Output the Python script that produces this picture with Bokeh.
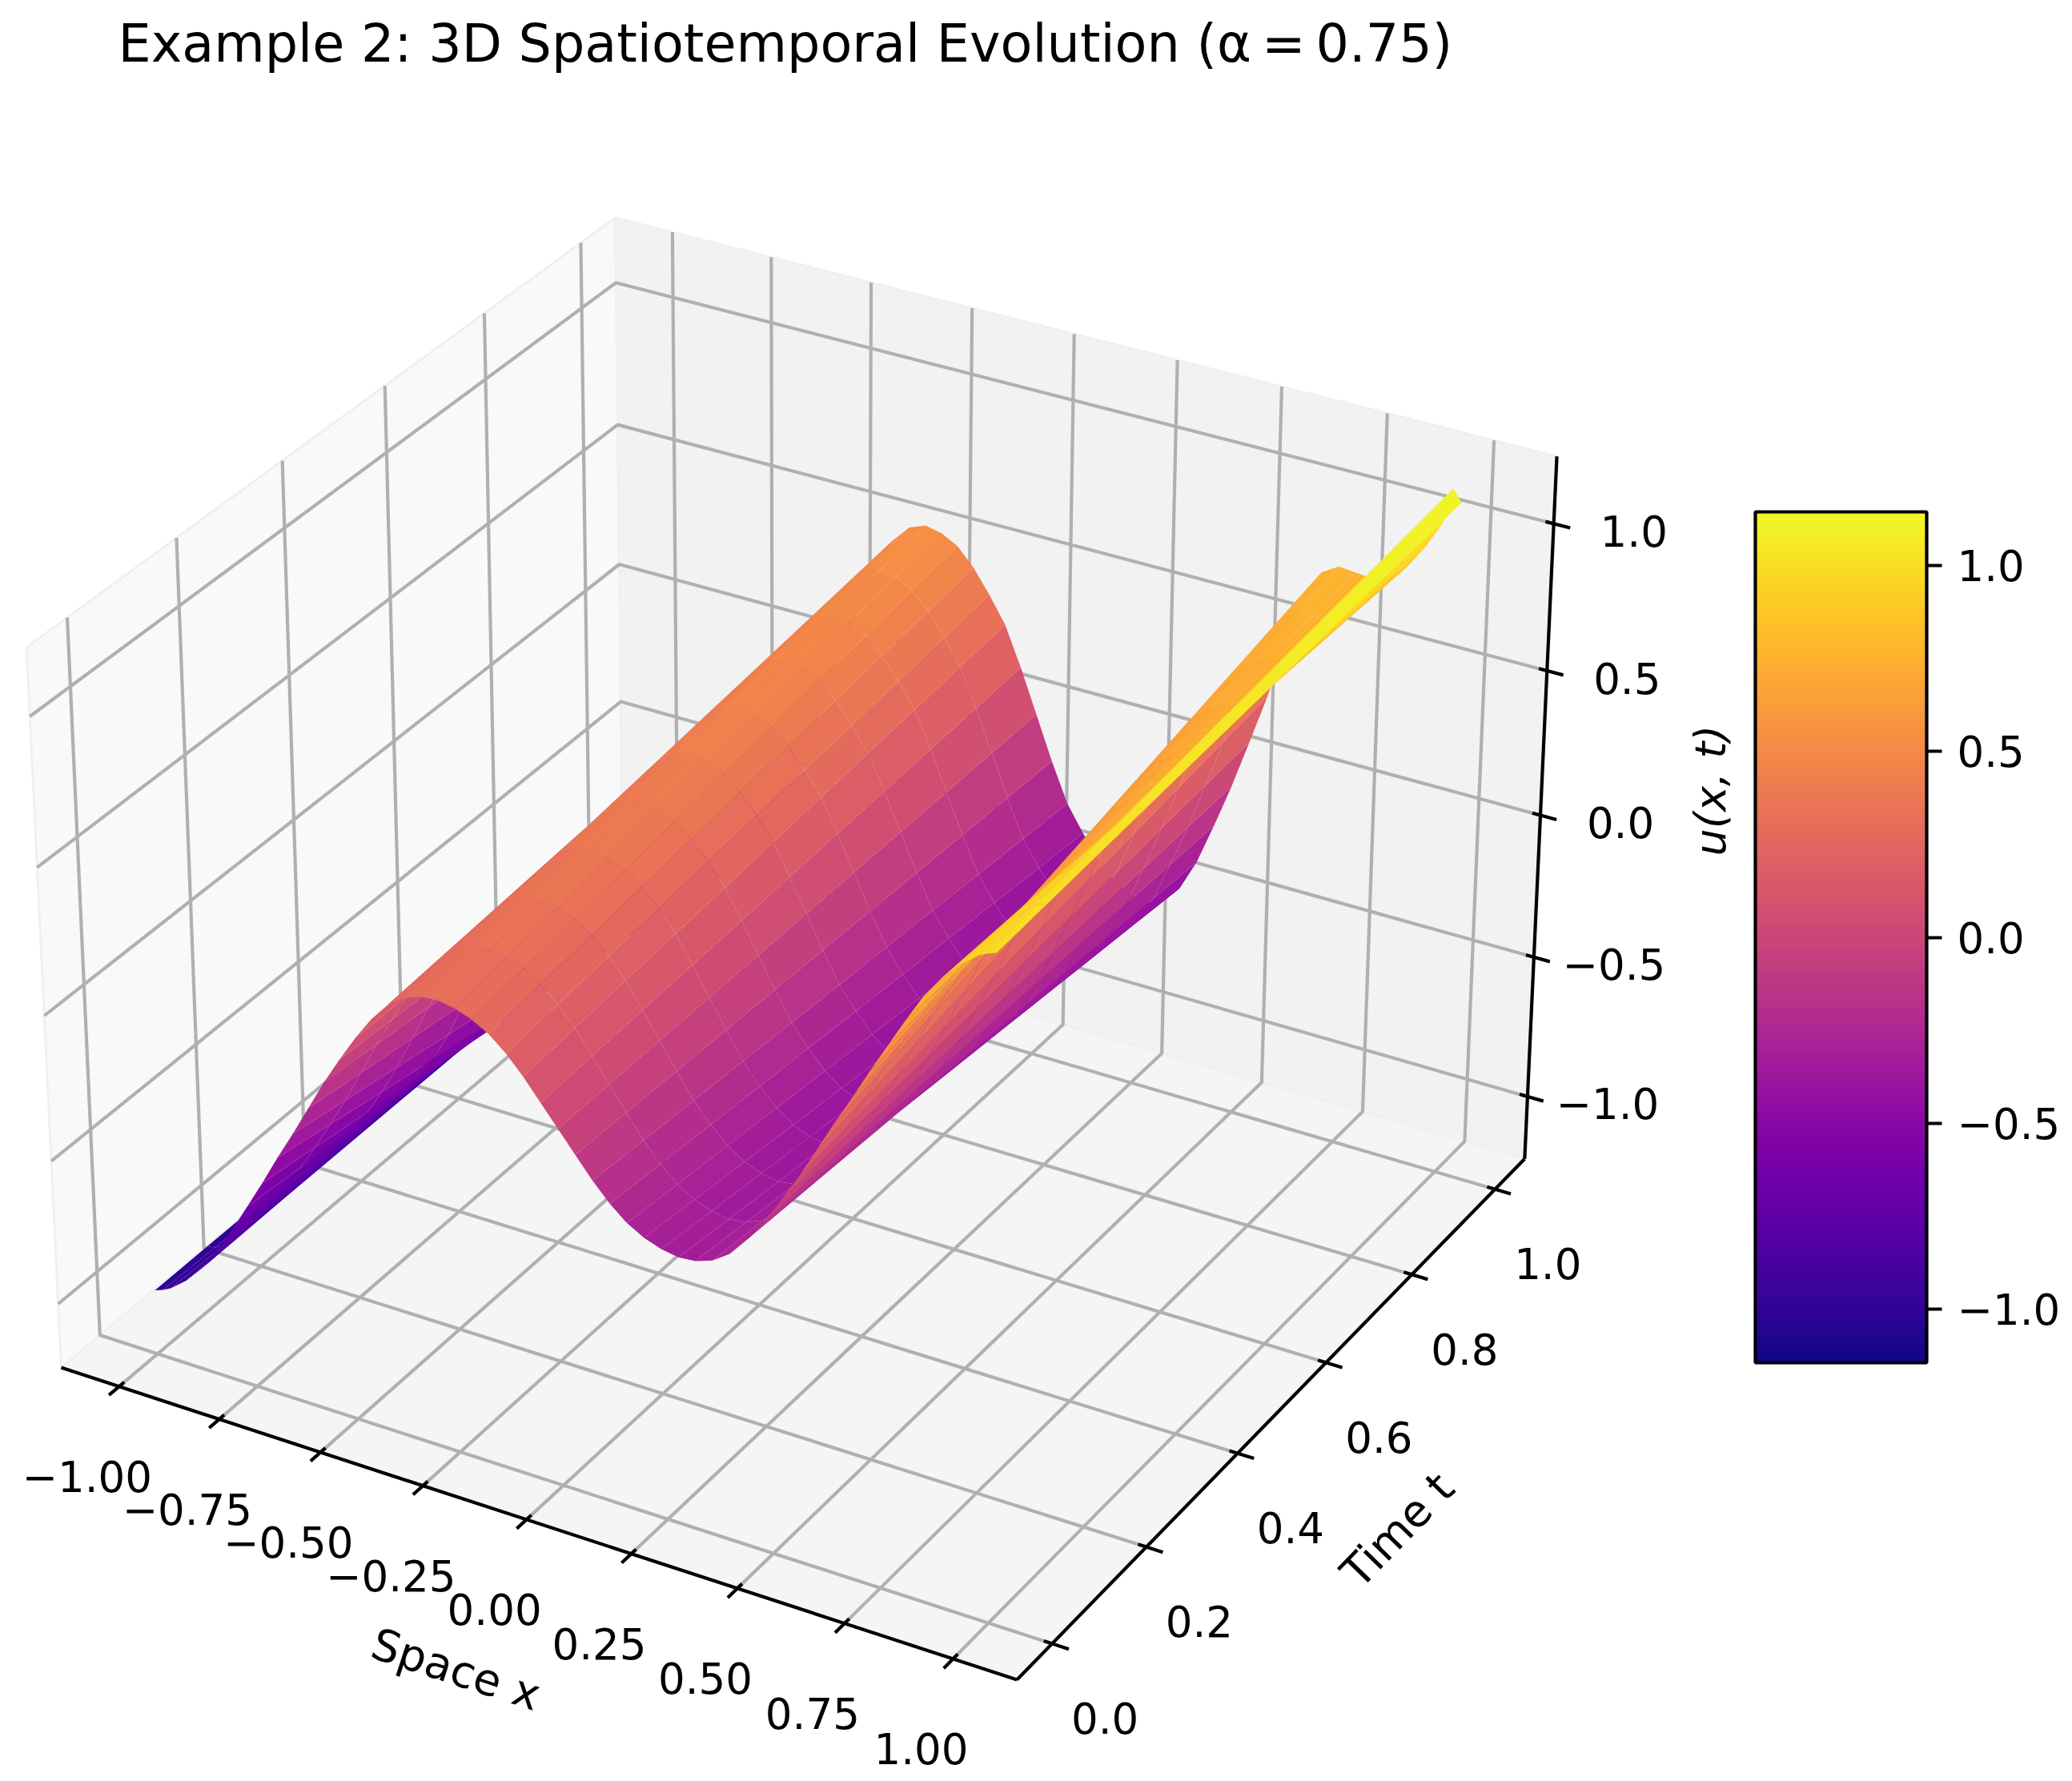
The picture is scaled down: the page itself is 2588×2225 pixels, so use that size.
import numpy as np
from bokeh.plotting import figure
from bokeh.embed import file_html
from bokeh.resources import INLINE
from bokeh.models import ColorBar, LinearColorMapper, FixedTicker
from bokeh.palettes import Plasma256
from bokeh.core.properties import value

title_text = "Example 2: 3D Spatiotemporal Evolution (α\u2009=\u20090.75)"
x_ticks = [-1.0, -0.75, -0.5, -0.25, 0.0, 0.25, 0.5, 0.75, 1.0]
x_labels = ["−1.00", "−0.75", "−0.50", "−0.25", "0.00", "0.25", "0.50", "0.75", "1.00"]
t_ticks = [0.0, 0.2, 0.4, 0.6, 0.8, 1.0]
t_labels = ["0.0", "0.2", "0.4", "0.6", "0.8", "1.0"]
z_ticks = [-1.0, -0.5, 0.0, 0.5, 1.0]
z_labels = ["−1.0", "−0.5", "0.0", "0.5", "1.0"]
cbar_low, cbar_high = -1.145, 1.145

x_nodes = [-1.0, -0.98, -0.96, -0.92, -0.88, -0.84, -0.8, -0.76, -0.72, -0.68, -0.64, -0.6, -0.56, -0.52, -0.48, -0.44, -0.4, -0.36,
           -0.32, -0.28, -0.24, -0.2, -0.16, -0.12, -0.08, -0.04, 0.0, 0.04, 0.08, 0.12, 0.16, 0.2, 0.24, 0.28, 0.32, 0.36,
           0.4, 0.44, 0.48, 0.52, 0.56, 0.6, 0.64, 0.68, 0.72, 0.76, 0.8, 0.84, 0.88, 0.92, 0.96, 0.98, 1.0]
t_nodes = [0.0, 0.1, 0.2, 0.3, 0.4, 0.5, 0.6, 0.7, 0.8, 0.9, 1.0]
u_t00 = [-1.0, -.99, -.975, -.93, -.87, -.795, -.70, -.60, -.50, -.395, -.295, -.19, -.085, .01, .10, .18, .245, .285, .305, .31, .30, .28, .248, .20, .14, .07,
         0, -.07, -.14, -.20, -.248, -.28, -.30, -.31, -.305, -.285, -.245, -.18, -.10, -.01, .085, .19, .295, .395, .50, .60, .70, .795, .87, .93, .975, .99, 1.0]
u_t01 = [-1.0, -.995, -.98, -.93, -.868, -.796, -.708, -.619, -.529, -.431, -.33, -.218, -.105, -.002, .097, .184, .257, .304, .328, .335, .325, .304, .269, .218, .155, .078,
         0, -.078, -.155, -.218, -.269, -.304, -.325, -.335, -.328, -.304, -.257, -.184, -.097, .002, .105, .218, .33, .431, .529, .619, .708, .796, .868, .93, .981, 1.006, 1.011]
u_t02 = [-1.0, -.995, -.98, -.93, -.866, -.796, -.716, -.637, -.558, -.467, -.364, -.245, -.124, -.013, .093, .188, .269, .323, .351, .359, .349, .327, .289, .235, .169, .086,
         0, -.086, -.169, -.235, -.289, -.327, -.349, -.359, -.351, -.323, -.269, -.188, -.093, .013, .124, .245, .364, .467, .558, .637, .716, .796, .866, .93, .986, 1.022, 1.022]
u_t03 = [-1.0, -.995, -.98, -.93, -.864, -.797, -.724, -.656, -.587, -.503, -.399, -.273, -.144, -.025, .09, .192, .281, .342, .374, .384, .374, .351, .31, .253, .184, .094,
         0, -.094, -.184, -.253, -.31, -.351, -.374, -.384, -.374, -.342, -.281, -.192, -.09, .025, .144, .273, .399, .503, .587, .656, .724, .797, .864, .93, .992, 1.038, 1.033]
u_t04 = [-1.0, -.995, -.98, -.93, -.862, -.797, -.732, -.674, -.616, -.539, -.433, -.30, -.163, -.036, .086, .196, .293, .361, .397, .409, .398, .374, .331, .27, .198, .102,
         0, -.102, -.198, -.27, -.331, -.374, -.398, -.409, -.397, -.361, -.293, -.196, -.086, .036, .163, .30, .433, .539, .616, .674, .732, .797, .862, .93, .997, 1.054, 1.044]
u_t05 = [-1.0, -.995, -.98, -.93, -.86, -.798, -.74, -.693, -.645, -.575, -.468, -.328, -.183, -.048, .083, .20, .305, .38, .42, .434, .423, .398, .352, .288, .213, .11,
         0, -.11, -.213, -.288, -.352, -.398, -.423, -.434, -.42, -.38, -.305, -.20, -.083, .048, .183, .328, .468, .575, .645, .693, .74, .798, .86, .93, 1.003, 1.07, 1.055]
u_t06 = [-1.0, -.995, -.98, -.93, -.858, -.798, -.748, -.711, -.674, -.611, -.502, -.355, -.202, -.059, .079, .204, .317, .399, .443, .458, .447, .421, .372, .305, .227, .118,
         0, -.118, -.227, -.305, -.372, -.421, -.447, -.458, -.443, -.399, -.317, -.204, -.079, .059, .202, .355, .502, .611, .674, .711, .748, .798, .858, .93, 1.008, 1.086, 1.066]
u_t07 = [-1.0, -.995, -.98, -.93, -.856, -.799, -.756, -.73, -.703, -.647, -.537, -.383, -.222, -.071, .076, .208, .329, .418, .466, .483, .472, .445, .393, .323, .242, .126,
         0, -.126, -.242, -.323, -.393, -.445, -.472, -.483, -.466, -.418, -.329, -.208, -.076, .071, .222, .383, .537, .647, .703, .73, .756, .799, .856, .93, 1.014, 1.102, 1.077]
u_t08 = [-1.0, -.995, -.98, -.93, -.854, -.799, -.764, -.748, -.732, -.683, -.571, -.41, -.241, -.082, .072, .212, .341, .437, .489, .508, .496, .468, .414, .34, .256, .134,
         0, -.134, -.256, -.34, -.414, -.468, -.496, -.508, -.489, -.437, -.341, -.212, -.072, .082, .241, .41, .571, .683, .732, .748, .764, .799, .854, .93, 1.019, 1.118, 1.088]
u_t09 = [-1.0, -.995, -.98, -.93, -.852, -.80, -.772, -.767, -.761, -.719, -.606, -.438, -.261, -.094, .069, .216, .353, .456, .512, .532, .521, .492, .434, .358, .271, .142,
         0, -.142, -.271, -.358, -.434, -.492, -.521, -.532, -.512, -.456, -.353, -.216, -.069, .094, .261, .438, .606, .719, .761, .767, .772, .80, .852, .93, 1.025, 1.134, 1.099]
u_t10 = [-1.0, -.995, -.98, -.93, -.85, -.80, -.78, -.785, -.79, -.755, -.64, -.465, -.28, -.105, .065, .22, .365, .475, .535, .557, .545, .515, .455, .375, .285, .15,
         0, -.15, -.285, -.375, -.455, -.515, -.545, -.557, -.535, -.475, -.365, -.22, -.065, .105, .28, .465, .64, .755, .79, .785, .78, .80, .85, .93, 1.03, 1.15, 1.11]
u_rows = [u_t00, u_t01, u_t02, u_t03, u_t04, u_t05, u_t06, u_t07, u_t08, u_t09, u_t10]

# matplotlib-style 3D view (elev 30, azim -60, box 4:4:3)
XL, T0, T1, ZL = 1.14583, -0.07292, 1.07292, 1.226
HX, HZ = 0.59524, 0.44643
CX, CY, S = 1006.8, 1140.8, 11487.0
W = np.array([0.43301, -0.75, 0.5])
U = np.array([0.86603, 0.5, 0.0])
V = np.array([-0.25, 0.43301, 0.86603])


def box(x, t, z):
    return (np.asarray(x, float) / XL * HX,
            (np.asarray(t, float) - 0.5) / (0.5 * (T1 - T0)) * HX,
            np.asarray(z, float) / ZL * HZ)


def proj(x, t, z):
    d = box(x, t, z)
    den = 10.0 - (W[0] * d[0] + W[1] * d[1] + W[2] * d[2])
    ue = U[0] * d[0] + U[1] * d[1]
    ve = V[0] * d[0] + V[1] * d[1] + V[2] * d[2]
    return CX + S * ue / den, CY - S * ve / den


def depth(x, t, z):
    d = box(x, t, z)
    return W[0] * d[0] + W[1] * d[1] + W[2] * d[2]


def path(pts):
    a = np.array(pts, float)
    return proj(a[:, 0], a[:, 1], a[:, 2])


p = figure(width=2580, height=2217, x_range=(0, 2580), y_range=(2217, 0), output_backend="svg",
           toolbar_location=None, min_border=0, background_fill_color="white", border_fill_color="white")
p.xaxis.visible = False
p.yaxis.visible = False
p.grid.visible = False
p.outline_line_color = None

# panes
panes = [([(-XL, T0, -ZL), (-XL, T1, -ZL), (-XL, T1, ZL), (-XL, T0, ZL)], "#f9f9f9"),
         ([(-XL, T1, -ZL), (XL, T1, -ZL), (XL, T1, ZL), (-XL, T1, ZL)], "#f2f2f2"),
         ([(-XL, T0, -ZL), (XL, T0, -ZL), (XL, T1, -ZL), (-XL, T1, -ZL)], "#f5f5f5")]
for pts, col in panes:
    xs, ys = path(pts)
    p.patch(list(xs), list(ys), fill_color=col, line_color="#f0f0f0", line_width=3)

# grid
GRID = "#b0b0b0"
gx, gy = [], []
for v in x_ticks:
    a, b = path([(v, T0, -ZL), (v, T1, -ZL), (v, T1, ZL)])
    gx.append(list(a)); gy.append(list(b))
for v in t_ticks:
    a, b = path([(XL, v, -ZL), (-XL, v, -ZL), (-XL, v, ZL)])
    gx.append(list(a)); gy.append(list(b))
for v in z_ticks:
    a, b = path([(-XL, T0, v), (-XL, T1, v), (XL, T1, v)])
    gx.append(list(a)); gy.append(list(b))
p.multi_line(gx, gy, line_color=GRID, line_width=4.2)

# axis lines and ticks
AX = "black"
for pts in ([(-XL, T0, -ZL), (XL, T0, -ZL)], [(XL, T0, -ZL), (XL, T1, -ZL)], [(XL, T1, -ZL), (XL, T1, ZL)]):
    a, b = path(pts)
    p.line(list(a), list(b), line_color=AX, line_width=4.2)
dt = (T1 - T0) / 12.0
dx = 2 * XL / 12.0
tk_out, tk_in = 0.2, 0.1
sx, sy, ex, ey = [], [], [], []


def add_tick(pa, pb):
    a, b = path([pa, pb])
    sx.append(a[0]); sy.append(b[0]); ex.append(a[1]); ey.append(b[1])


for v in x_ticks:
    add_tick((v, T0 + tk_in * dt, -ZL), (v, T0 - tk_out * dt, -ZL))
for v in t_ticks:
    add_tick((XL - tk_in * dx, v, -ZL), (XL + tk_out * dx, v, -ZL))
for v in z_ticks:
    add_tick((XL - tk_in * dx, T1, v), (XL + tk_out * dx, T1, v))
p.segment(sx, sy, ex, ey, line_color=AX, line_width=4.2)

# surface
U_GRID = np.array(u_rows)
X_G, T_G = np.array(x_nodes), np.array(t_nodes)
quads = []
for i in range(len(t_nodes) - 1):
    for j in range(len(x_nodes) - 1):
        cx = [X_G[j], X_G[j + 1], X_G[j + 1], X_G[j]]
        ct = [T_G[i], T_G[i], T_G[i + 1], T_G[i + 1]]
        cz = [U_GRID[i, j], U_GRID[i, j + 1], U_GRID[i + 1, j + 1], U_GRID[i + 1, j]]
        quads.append((float(np.mean(depth(np.array(cx), np.array(ct), np.array(cz)))), cx, ct, cz))
quads.sort(key=lambda q: q[0])
qx, qy, qc = [], [], []
for _, cx, ct, cz in quads:
    a, b = proj(np.array(cx), np.array(ct), np.array(cz))
    qx.append(list(a)); qy.append(list(b))
    f = (np.mean(cz) - cbar_low) / (cbar_high - cbar_low)
    qc.append(Plasma256[int(np.clip(f * 255, 0, 255))])
p.patches(qx, qy, fill_color=qc, line_color=None)

# tick labels
FONT = value("DejaVu Sans")
lx, ly = proj(np.array(x_ticks), T0, -ZL)
p.text(lx - 40, ly + 112, text=x_labels, text_font=FONT, text_font_size="53px", text_align="center", text_baseline="middle")
lx, ly = proj(XL, np.array(t_ticks), -ZL)
p.text(lx + 66, ly + 93, text=t_labels, text_font=FONT, text_font_size="53px", text_align="center", text_baseline="middle")
lx, ly = proj(XL, T1, np.array(z_ticks))
p.text(lx + 100, ly + 9, text=z_labels, text_font=FONT, text_font_size="53px", text_align="center", text_baseline="middle")

# title and axis labels
p.text([147], [53], text=[title_text], text_font=FONT, text_font_size="65.2px", text_align="left", text_baseline="alphabetic")
p.text([569], [2085], text=["Space x"], angle=[-0.315], text_font=FONT, text_font_size="55px", text_align="center", text_baseline="middle")
p.text([1745], [1911], text=["Time t"], angle=[0.80], text_font=FONT, text_font_size="55px", text_align="center", text_baseline="middle")
p.text([2136], [987], text=["u(x, t)"], angle=[1.5708], text_font=FONT, text_font_size="54px", text_font_style="italic", text_align="center", text_baseline="middle")

# colour bar
mapper = LinearColorMapper(palette=Plasma256, low=cbar_low, high=cbar_high)
cb = ColorBar(color_mapper=mapper, ticker=FixedTicker(ticks=z_ticks), width=214, height=1063,
              location=(2192, 515), padding=0, margin=0,
              major_label_overrides={-1.0: "−1.0", -0.5: "−0.5", 0.0: "0.0", 0.5: "0.5", 1.0: "1.0"},
              major_tick_in=0, major_tick_out=19, major_tick_line_color="black", major_tick_line_width=4,
              minor_tick_line_color=None, bar_line_color="black", bar_line_width=4.2,
              major_label_text_font="DejaVu Sans", major_label_text_font_size="53px", major_label_text_color="black",
              label_standoff=19, background_fill_color=None, border_line_color=None)
p.add_layout(cb, "center")

open("out.html", "w").write(file_html(p, INLINE))
